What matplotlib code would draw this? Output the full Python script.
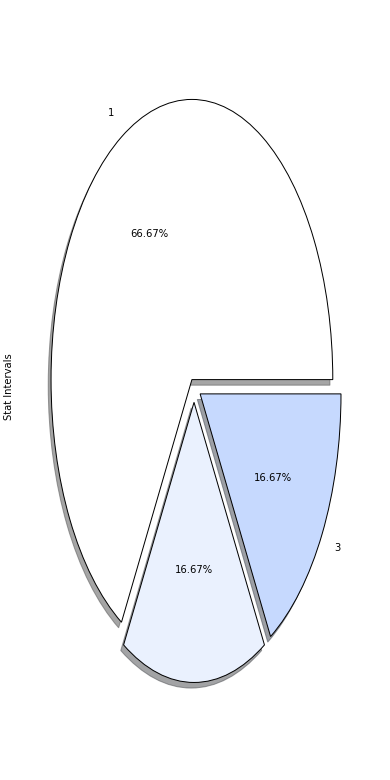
import matplotlib
matplotlib.use("Agg")
import matplotlib.pyplot as plt

# data
labels = ["1", "", "3"]
counts = [4, 1, 1]
colors = ["#ffffff", "#eaf1fe", "#c6d9fe"]
explode = [0.03, 0.055, 0.05]
ylabel = "Stat Intervals"

# reference looks rendered at 72 dpi
fig = plt.figure(figsize=(390 / 72, 780 / 72), dpi=72)
ax = fig.add_axes([0.046, 0.055, 0.903, 0.898])

ax.pie(counts, labels=labels, colors=colors, explode=explode,
       autopct="%.2f%%", shadow=True, startangle=0,
       wedgeprops={"edgecolor": "black", "linewidth": 1.0})
ax.set_aspect("auto")
ax.set_ylabel(ylabel)

plt.savefig("out.png", dpi=72)
